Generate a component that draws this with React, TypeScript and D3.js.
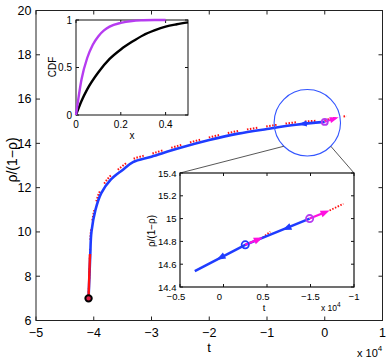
import React, { useEffect, useRef } from 'react';
import * as d3 from 'd3';

// main trajectory, t in units of 1e4
const mainT = [-4.09, -4.075, -4.06, -4.04, -3.97, -3.87, -3.71, -3.5, -3.32, -3.0, -2.5, -2.0, -1.5, -1.0, -0.5, 0];
const mainRho = [7.0, 8.0, 9.0, 10.0, 11.0, 11.75, 12.35, 12.8, 13.15, 13.4, 13.8, 14.15, 14.44, 14.65, 14.84, 14.97];
// red dotted reference curve (sits a little above the blue one)
const redT = [-4.09, -4.078, -4.065, -4.05, -3.99, -3.9, -3.74, -3.53, -3.34, -3.0, -2.5, -2.0, -1.5, -1.0, -0.5, 0, 0.24, 0.38];
const redRho = [7.0, 8.0, 9.0, 10.0, 11.0, 11.8, 12.45, 12.92, 13.27, 13.53, 13.92, 14.27, 14.56, 14.77, 14.95, 15.06, 15.18, 15.24];
const mainTicksX = [-5, -4, -3, -2, -1, 0, 1];
const mainTicksY = [6, 8, 10, 12, 14, 16, 18, 20];

// CDF inset
const cdfX = [0, 0.025, 0.05, 0.1, 0.15, 0.2, 0.25, 0.3, 0.35, 0.4, 0.45, 0.5];
const cdfBlack = [0, 0.15, 0.27, 0.45, 0.59, 0.69, 0.77, 0.84, 0.89, 0.93, 0.955, 0.975];
const cdfX2 = [0, 0.025, 0.05, 0.075, 0.1, 0.125, 0.15, 0.2, 0.25, 0.3, 0.35, 0.4];
const cdfPurple = [0, 0.38, 0.6, 0.74, 0.83, 0.89, 0.93, 0.97, 0.99, 0.997, 1, 1];
const cdfTicksX = [0, 0.2, 0.4];
const cdfTicksY = [0, 0.5, 1];

// zoom inset
const zoomT = [-0.33, 0.25, 0.99];
const zoomRho = [14.54, 14.77, 15.0];
const zoomTicksX = [-0.5, 0, 0.5, 1, 1.5];
const zoomTickLabelsX = ['\u22120.5', '0', '0.5', '\u22121.5', '\u22121'];
const zoomTicksY = [14.4, 14.6, 14.8, 15, 15.2, 15.4];
const zoomTickLabelsY = ['14.4', '14.6', '14.8', '15', '15.2', '15.4'];
// arrows: [tailT, tailRho, tipT, tipRho]
const zoomBlueArrows = [[0.25, 14.77, -0.08, 14.64], [0.99, 15.0, 0.678, 14.9]];
const zoomPinkArrows = [[0.25, 14.77, 0.451, 14.834], [0.99, 15.0, 1.219, 15.071]];
const zoomRedDots = [[0.451, 14.834, 0.5375, 14.886], [1.219, 15.071, 1.378, 15.13]];

const BLUE = '#1f3cff';
const PINK = '#ff10e0';
const PURPLE = '#b63cf0';
const RED = '#ff1010';
const FONT = 'Liberation Sans, Arial, Helvetica, sans-serif';

function arrowHead(g, x0, y0, x1, y1, len, wid, color) {
  const a = Math.atan2(y1 - y0, x1 - x0);
  const bx = x1 - len * Math.cos(a), by = y1 - len * Math.sin(a);
  const px = -Math.sin(a) * wid / 2, py = Math.cos(a) * wid / 2;
  g.append('path')
    .attr('d', `M${x1},${y1}L${bx + px},${by + py}L${bx - px},${by - py}Z`)
    .attr('fill', color);
}

export default function App() {
  const ref = useRef(null);

  function draw() {
    const svg = d3.select(ref.current);
    svg.selectAll('*').remove();
    const g = svg.append('g').attr('font-family', FONT);

    /* MAIN AXES */
    const x = d3.scaleLinear().domain([-5, 1]).range([36, 382.5]);
    const y = d3.scaleLinear().domain([6, 20]).range([320.5, 10.5]);

    g.append('rect').attr('x', 36).attr('y', 10.5).attr('width', 346.5).attr('height', 310)
      .attr('fill', 'white').attr('stroke', '#222').attr('stroke-width', 1);
    mainTicksX.forEach(t => {
      g.append('line').attr('x1', x(t)).attr('x2', x(t)).attr('y1', 320.5).attr('y2', 316.5).attr('stroke', '#222');
      g.append('line').attr('x1', x(t)).attr('x2', x(t)).attr('y1', 10.5).attr('y2', 14.5).attr('stroke', '#222');
      g.append('text').attr('x', x(t)).attr('y', 337).attr('text-anchor', 'middle').attr('font-size', 12.5)
        .text(d3.format('')(t));
    });
    mainTicksY.forEach(v => {
      g.append('line').attr('x1', 36).attr('x2', 40).attr('y1', y(v)).attr('y2', y(v)).attr('stroke', '#222');
      g.append('line').attr('x1', 382.5).attr('x2', 378.5).attr('y1', y(v)).attr('y2', y(v)).attr('stroke', '#222');
      g.append('text').attr('x', 31.5).attr('y', y(v) + 4.3).attr('text-anchor', 'end').attr('font-size', 12.5)
        .text(v);
    });
    g.append('text').attr('x', 209).attr('y', 352).attr('text-anchor', 'middle').attr('font-size', 13).text('t');
    const e4 = g.append('text').attr('x', 357).attr('y', 357).attr('font-size', 11);
    e4.append('tspan').text('x 10');
    e4.append('tspan').attr('dy', -6).attr('font-size', 8).text('4');
    g.append('text').attr('transform', 'translate(17,160) rotate(-90)').attr('text-anchor', 'middle')
      .attr('font-size', 14).text('\u03c1/(1\u2212\u03c1)');

    const line = d3.line().curve(d3.curveCatmullRom.alpha(0.5));
    const mainPts = mainT.map((t, i) => [x(t), y(mainRho[i])]);
    const redPts = redT.map((t, i) => [x(t), y(redRho[i])]);

    g.append('path').attr('d', line(redPts)).attr('fill', 'none').attr('stroke', RED)
      .attr('stroke-width', 2).attr('stroke-dasharray', '1.5 1.5 1.5 1.5 1.5 1.5 1.5 9');
    g.append('path').attr('d', line(mainPts)).attr('fill', 'none').attr('stroke', BLUE).attr('stroke-width', 2.6);
    // red start segment drawn over the blue
    g.append('path').attr('d', line(redPts.slice(0, 3))).attr('fill', 'none').attr('stroke', RED).attr('stroke-width', 2.4);
    g.append('circle').attr('cx', x(mainT[0])).attr('cy', y(mainRho[0])).attr('r', 3.2)
      .attr('fill', '#e0204a').attr('stroke', 'black').attr('stroke-width', 2);

    // arrows at the end of the main curve
    arrowHead(g, x(-0.1), y(14.95), x(-0.45), y(14.86), 8, 6, BLUE);
    g.append('line').attr('x1', x(0)).attr('y1', y(14.97)).attr('x2', x(0.2)).attr('y2', y(15.15))
      .attr('stroke', PINK).attr('stroke-width', 2);
    arrowHead(g, x(0), y(14.97), x(0.24), y(15.18), 9, 6, PINK);
    g.append('circle').attr('cx', x(0)).attr('cy', y(14.97)).attr('r', 3)
      .attr('fill', 'none').attr('stroke', PURPLE).attr('stroke-width', 1.8);

    // zoom circle and connectors
    const cx = x(-0.302), cy = y(14.93), r = 33.2;
    g.append('circle').attr('cx', cx).attr('cy', cy).attr('r', r).attr('fill', 'none')
      .attr('stroke', '#3355ff').attr('stroke-width', 1.1);
    const ang = Math.PI / 4;
    g.append('line').attr('x1', cx - r * Math.cos(ang)).attr('y1', cy + r * Math.sin(ang))
      .attr('x2', 180).attr('y2', 173).attr('stroke', '#444').attr('stroke-width', 0.9);
    g.append('line').attr('x1', cx + r * Math.cos(ang)).attr('y1', cy + r * Math.sin(ang))
      .attr('x2', 354).attr('y2', 173).attr('stroke', '#444').attr('stroke-width', 0.9);

    /* CDF INSET */
    const ix = d3.scaleLinear().domain([0, 0.5]).range([76, 188]);
    const iy = d3.scaleLinear().domain([0, 1]).range([115, 20]);
    g.append('rect').attr('x', 76).attr('y', 20).attr('width', 112).attr('height', 95)
      .attr('fill', 'white').attr('stroke', '#111').attr('stroke-width', 1);
    cdfTicksX.forEach(t => {
      g.append('line').attr('x1', ix(t)).attr('x2', ix(t)).attr('y1', 115).attr('y2', 112).attr('stroke', '#111');
      g.append('line').attr('x1', ix(t)).attr('x2', ix(t)).attr('y1', 20).attr('y2', 23).attr('stroke', '#111');
      g.append('text').attr('x', ix(t)).attr('y', 128).attr('text-anchor', 'middle').attr('font-size', 10).text(t);
    });
    cdfTicksY.forEach(v => {
      g.append('line').attr('x1', 76).attr('x2', 79).attr('y1', iy(v)).attr('y2', iy(v)).attr('stroke', '#111');
      g.append('line').attr('x1', 188).attr('x2', 185).attr('y1', iy(v)).attr('y2', iy(v)).attr('stroke', '#111');
      g.append('text').attr('x', 72).attr('y', iy(v) + 3.5).attr('text-anchor', 'end').attr('font-size', 10).text(v);
    });
    g.append('text').attr('x', 132).attr('y', 139).attr('text-anchor', 'middle').attr('font-size', 10).text('x');
    g.append('text').attr('transform', 'translate(56,67) rotate(-90)').attr('text-anchor', 'middle')
      .attr('font-size', 10).text('CDF');
    const cdfLine = d3.line().curve(d3.curveMonotoneX);
    g.append('path').attr('d', cdfLine(cdfX.map((t, i) => [ix(t), iy(cdfBlack[i])])))
      .attr('fill', 'none').attr('stroke', 'black').attr('stroke-width', 2.4);
    g.append('path').attr('d', cdfLine(cdfX2.map((t, i) => [ix(t), iy(cdfPurple[i])])))
      .attr('fill', 'none').attr('stroke', PURPLE).attr('stroke-width', 2.4);

    /* ZOOM INSET */
    const zx = d3.scaleLinear().domain([-0.5, 1.5]).range([180, 354]);
    const zy = d3.scaleLinear().domain([14.4, 15.4]).range([287, 173]);
    g.append('rect').attr('x', 180).attr('y', 173).attr('width', 174).attr('height', 114)
      .attr('fill', 'white').attr('stroke', '#111').attr('stroke-width', 1.2);
    zoomTicksX.forEach((t, i) => {
      g.append('line').attr('x1', zx(t)).attr('x2', zx(t)).attr('y1', 287).attr('y2', 284).attr('stroke', '#111');
      g.append('line').attr('x1', zx(t)).attr('x2', zx(t)).attr('y1', 173).attr('y2', 176).attr('stroke', '#111');
      g.append('text').attr('x', zx(t) - (i < 3 ? 4 : 0)).attr('y', 300).attr('text-anchor', 'middle')
        .attr('font-size', 9.5).text(zoomTickLabelsX[i]);
    });
    zoomTicksY.forEach((v, i) => {
      g.append('line').attr('x1', 180).attr('x2', 183).attr('y1', zy(v)).attr('y2', zy(v)).attr('stroke', '#111');
      g.append('line').attr('x1', 354).attr('x2', 351).attr('y1', zy(v)).attr('y2', zy(v)).attr('stroke', '#111');
      g.append('text').attr('x', 176.5).attr('y', zy(v) + 3.5).attr('text-anchor', 'end')
        .attr('font-size', 9.5).text(zoomTickLabelsY[i]);
    });
    g.append('text').attr('x', 264).attr('y', 311).attr('text-anchor', 'middle').attr('font-size', 9.5).text('t');
    const z4 = g.append('text').attr('x', 321).attr('y', 311).attr('font-size', 8.5);
    z4.append('tspan').text('x 10');
    z4.append('tspan').attr('dy', -4).attr('font-size', 6.5).text('4');
    g.append('text').attr('transform', 'translate(155,231) rotate(-90)').attr('text-anchor', 'middle')
      .attr('font-size', 10).text('\u03c1/(1\u2212\u03c1)');

    zoomRedDots.forEach(d => {
      g.append('line').attr('x1', zx(d[0])).attr('y1', zy(d[1])).attr('x2', zx(d[2])).attr('y2', zy(d[3]))
        .attr('stroke', RED).attr('stroke-width', 1.8).attr('stroke-dasharray', '1.5 1.5');
    });
    g.append('path').attr('d', d3.line()(zoomT.map((t, i) => [zx(t), zy(zoomRho[i])])))
      .attr('fill', 'none').attr('stroke', BLUE).attr('stroke-width', 2.6);
    zoomBlueArrows.forEach(d => {
      arrowHead(g, zx(d[0]), zy(d[1]), zx(d[2]), zy(d[3]), 9, 7, BLUE);
    });
    zoomPinkArrows.forEach(d => {
      const a = Math.atan2(zy(d[3]) - zy(d[1]), zx(d[2]) - zx(d[0]));
      g.append('line').attr('x1', zx(d[0])).attr('y1', zy(d[1]))
        .attr('x2', zx(d[2]) - 6 * Math.cos(a)).attr('y2', zy(d[3]) - 6 * Math.sin(a))
        .attr('stroke', PINK).attr('stroke-width', 2.2);
      arrowHead(g, zx(d[0]), zy(d[1]), zx(d[2]), zy(d[3]), 9, 7, PINK);
    });
    g.append('circle').attr('cx', zx(zoomT[1])).attr('cy', zy(zoomRho[1])).attr('r', 3.6)
      .attr('fill', 'none').attr('stroke', BLUE).attr('stroke-width', 1.8);
    g.append('circle').attr('cx', zx(zoomT[2])).attr('cy', zy(zoomRho[2])).attr('r', 3.6)
      .attr('fill', 'none').attr('stroke', PURPLE).attr('stroke-width', 1.8);
  }

  useEffect(() => {
    draw();
  }, []);

  return (
    <svg ref={ref} width={390} height={360}
      style={{ position: 'absolute', left: 0, top: 0, background: 'white' }} />
  );
}
